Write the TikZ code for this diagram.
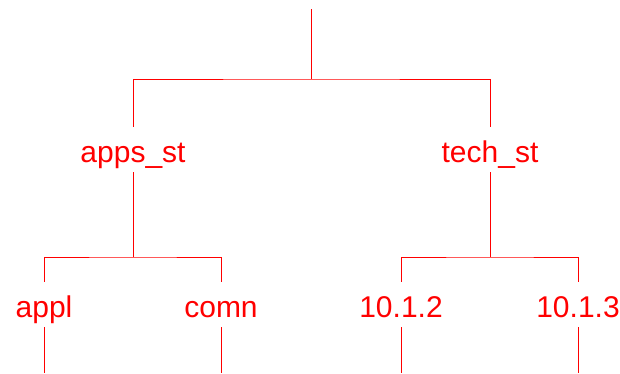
\documentclass[tikz,border=0pt]{standalone}
\usepackage{fontspec}
\setmainfont{Liberation Sans}
\begin{document}
\begin{tikzpicture}[x=1pt,y=-1pt,
  lbl/.style={inner sep=0pt, text height=35pt, text depth=10pt, anchor=base,
    text=red, font=\fontsize{30}{30}\selectfont},
  wire/.style={draw=red, line width=1pt}]
\useasboundingbox (0,0) rectangle (620,373);
% nodes
\node[lbl] (apps) at (133,162) {apps\_st};
\node[lbl] (tech) at (490,162) {tech\_st};
\node[lbl] (appl) at (44,317) {appl};
\node[lbl] (comn) at (221,317) {comn};
\node[lbl] (v102) at (401,317) {10.1.2};
\node[lbl] (v103) at (578,317) {10.1.3};
% junction coordinates
\coordinate (top) at (311,9);
\coordinate (j0) at (311,79);
\coordinate (j1) at (133,257);
\coordinate (j2) at (490,257);
\coordinate (e1) at (44,373);
\coordinate (e2) at (221,373);
\coordinate (e3) at (401,373);
\coordinate (e4) at (578,373);
% connectors
\draw[wire] (top) -- (j0);
\draw[wire] (apps.north) |- (j0) -| (tech.north);
\draw[wire] (apps.south) -- (j1);
\draw[wire] (tech.south) -- (j2);
\draw[wire] (appl.north) |- (j1) -| (comn.north);
\draw[wire] (v102.north) |- (j2) -| (v103.north);
\draw[wire] (appl.south) -- (e1);
\draw[wire] (comn.south) -- (e2);
\draw[wire] (v102.south) -- (e3);
\draw[wire] (v103.south) -- (e4);
\end{tikzpicture}
\end{document}
